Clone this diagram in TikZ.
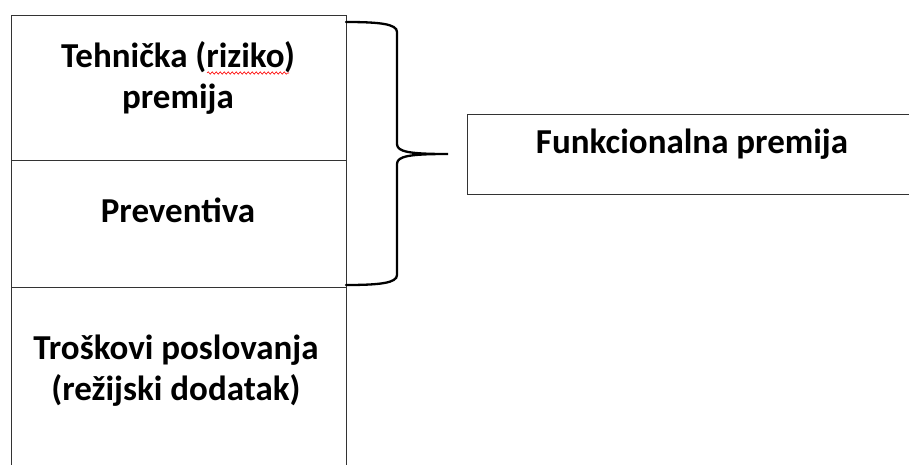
\documentclass[tikz,border=0pt]{standalone}
\usepackage{fontspec}
\setmainfont{Carlito}
\usetikzlibrary{positioning,decorations.pathmorphing}

\begin{document}
\begin{tikzpicture}[x=1pt, y=-1pt,
    part/.style={draw=black!80, line width=1.4pt, minimum width=335pt,
      inner sep=0pt, anchor=north west},
    txt/.style={font=\bfseries\fontsize{35}{41}\selectfont, align=center,
      inner sep=0pt},
    bracket/.style={line width=2.3pt, line cap=round}]
      \useasboundingbox (0,0) rectangle (909,464);
      % Tehnicka premija:
      %   the risk part, top of the column
      \node[part, minimum height=145pt] (tech) at (11,15) {};
      \node[txt, anchor=base] (techtext) at (178,108) {Tehnička (riziko)\\premija};
      \draw[red, line width=0.6pt, decorate,
        decoration={snake, amplitude=1.2pt, segment length=4pt}]
        (207,73) -- (289,73);
      % Preventiva:
      %   middle part of the column
      \node[part, minimum height=127pt] (prev) at (11,160) {};
      \node[txt, anchor=base] (prevtext) at (178,222) {Preventiva};
      % Troskovi poslovanja:
      %   bottom part, runs off the lower edge
      \node[part, minimum height=200pt] (cost) at (11,287) {};
      \node[txt, anchor=base] (costtext) at (176,400) {Troškovi poslovanja\\(režijski dodatak)};
      % Funkcionalna premija:
      %   the box the brace points at
      \node[draw=black!80, line width=1.4pt, minimum width=460pt,
        minimum height=80pt, inner sep=0pt, anchor=north west] (func) at (467,114) {};
      \node[txt, anchor=base] (functext) at (692,153) {Funkcionalna premija};
      % brace over tech and prev
      \coordinate (tip) at (448,154);
      \draw[bracket] (346,22) .. controls (380,22) and (397,24) .. (397,32)
        -- (397,144) .. controls (397,152) and (410,154) .. (tip)
        .. controls (410,154) and (397,156) .. (397,164)
        -- (397,275) .. controls (397,283) and (380,285) .. (346,285);
\end{tikzpicture}
\end{document}
